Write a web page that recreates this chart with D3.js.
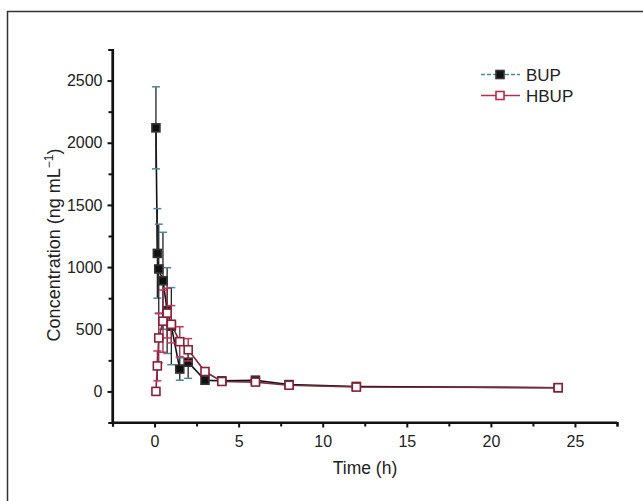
<!DOCTYPE html>
<html><head><meta charset="utf-8">
<script src="https://cdn.jsdelivr.net/npm/d3@7"></script>
<style>body{margin:0;background:#fff}svg{display:block}text{font-family:"Liberation Sans",Arial,sans-serif;fill:#222}</style>
</head><body>
<svg id="c" width="643" height="501"></svg>
<script>
const bupTime = [0.083, 0.167, 0.25, 0.5, 0.75, 1, 1.5, 2, 3, 4, 6, 8, 12, 24];
const bupMean = [2120, 1110, 985, 890, 650, 525, 180, 235, 90, 85, 90, 55, 40, 30];
const bupSD   = [330, 360, 360, 390, 345, 310, 90, 130, 25, 15, 30, 20, 10, 8];
const hbupTime = [0.083, 0.167, 0.25, 0.5, 0.75, 1, 1.5, 2, 3, 4, 6, 8, 12, 24];
const hbupMean = [0, 205, 430, 565, 630, 540, 400, 335, 160, 80, 75, 50, 35, 30];
const hbupSD   = [30, 120, 200, 250, 200, 150, 120, 90, 30, 20, 25, 20, 10, 8];
const xTicks = [0, 5, 10, 15, 20, 25];
const yTicks = [0, 500, 1000, 1500, 2000, 2500];
const seriesNames = ["BUP", "HBUP"];

const svg = d3.select("#c");
svg.append("rect").attr("x",7.5).attr("y",11.5).attr("width",800).attr("height",700)
  .attr("fill","none").attr("stroke","#333").attr("stroke-width",1.5);

const x = d3.scaleLinear().domain([-2.5, 27.5]).range([112.5, 617]);
const y = d3.scaleLinear().domain([-250, 2750]).range([422.5, 49.5]);

// axes
const xAxis = svg.append("g").attr("transform","translate(0,422.5)");
xAxis.call(d3.axisBottom(x).tickValues(xTicks).tickSize(5).tickPadding(8).tickFormat(d3.format("d")));
xAxis.append("g").call(d3.axisBottom(x).tickValues(d3.range(-2.5, 28, 5)).tickSize(4).tickFormat(""));
const yAxis = svg.append("g").attr("transform","translate(112.5,0)");
yAxis.call(d3.axisLeft(y).tickValues(yTicks).tickSize(5).tickPadding(5).tickFormat(d3.format("d")));
yAxis.append("g").call(d3.axisLeft(y).tickValues(d3.range(-250, 2800, 500)).tickSize(4).tickFormat(""));
svg.selectAll(".domain").attr("stroke","#111").attr("stroke-width",2.2);
svg.selectAll(".tick line").attr("stroke","#111").attr("stroke-width",2);
svg.selectAll(".tick text").style("font-size","16px").attr("fill","#222");
xAxis.select(".domain").attr("d", `M${x(-2.5)},0H${x(27.5)}`);
yAxis.select(".domain").attr("d", `M0,${y(-250)}V${y(2750)}`);

// titles
svg.append("text").attr("x",365).attr("y",474).attr("text-anchor","middle")
  .style("font-size","17.5px").text("Time (h)");
const yt = svg.append("text").attr("transform","translate(60,245) rotate(-90)")
  .attr("text-anchor","middle").style("font-size","18px");
yt.append("tspan").text("Concentration (ng mL");
yt.append("tspan").attr("dy",-7).style("font-size","12px").text("\u22121");
yt.append("tspan").attr("dy",7).text(")");

function drawSeries(times, means, sds, opt){
  const data = times.map((t,i)=>({t, m:means[i], s:sds[i]}));
  const g = svg.append("g");
  g.append("path").datum(data).attr("fill","none").attr("stroke",opt.line).attr("stroke-width",1.6)
    .attr("d", d3.line().x(d=>x(d.t)).y(d=>y(d.m)));
  const eb = g.selectAll(".eb").data(data).enter().append("g");
  eb.append("line").attr("x1",d=>x(d.t)).attr("x2",d=>x(d.t))
    .attr("y1",d=>y(d.m-d.s)).attr("y2",d=>y(d.m+d.s)).attr("stroke",opt.err).attr("stroke-width",1.3);
  [1,-1].forEach(sg=>{
    eb.append("line").attr("x1",d=>x(d.t)-4).attr("x2",d=>x(d.t)+4)
      .attr("y1",d=>y(d.m+sg*d.s)).attr("y2",d=>y(d.m+sg*d.s)).attr("stroke",opt.cap).attr("stroke-width",1.5);
  });
  g.selectAll(".mk").data(data).enter().append("rect")
    .attr("x",d=>x(d.t)-4).attr("y",d=>y(d.m)-4).attr("width",8).attr("height",8)
    .attr("fill",opt.fill).attr("stroke",opt.stroke).attr("stroke-width",1.6);
}
drawSeries(bupTime, bupMean, bupSD, {line:"#111", err:"#222", cap:"#4a8a9a", fill:"#111", stroke:"#333"});
drawSeries(hbupTime, hbupMean, hbupSD, {line:"#7a2a3c", err:"#8a2a40", cap:"#d0305a", fill:"#fff", stroke:"#8a2038"});

// legend
const lg = svg.append("g");
const legItems = [
  {name:seriesNames[0], y:74.5, line:"#4a8a9a", dash:"4,2", fill:"#111", stroke:"#333"},
  {name:seriesNames[1], y:95.5, line:"#b03050", dash:null, fill:"#fff", stroke:"#c0284c"}
];
legItems.forEach(d=>{
  lg.append("line").attr("x1",481).attr("x2",520).attr("y1",d.y).attr("y2",d.y)
    .attr("stroke",d.line).attr("stroke-width",1.6).attr("stroke-dasharray",d.dash);
  lg.append("rect").attr("x",496).attr("y",d.y-4).attr("width",8).attr("height",8)
    .attr("fill",d.fill).attr("stroke",d.stroke).attr("stroke-width",1.6);
  lg.append("text").attr("x",526).attr("y",d.y+6).style("font-size","17px").text(d.name);
});
</script>
</body></html>
